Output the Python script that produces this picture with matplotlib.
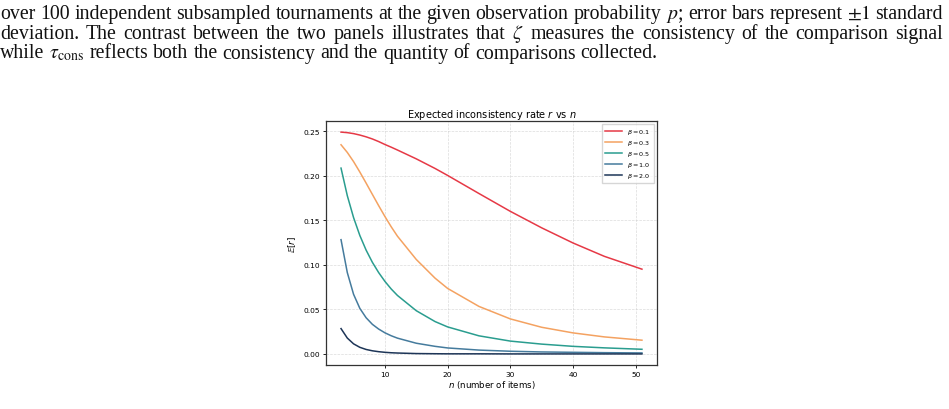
import matplotlib
matplotlib.use("Agg")
import matplotlib.pyplot as plt

# ─── data ─────────────────────────────────────────────────────────────────
n_items = [3, 4, 5, 6, 7, 8, 9, 10, 11, 12, 15, 18, 20, 25, 30, 35, 40, 45, 51]
betas = ["0.1", "0.3", "0.5", "1.0", "2.0"]
r_beta01 = [0.2489, 0.2483, 0.2472, 0.2456, 0.2436, 0.2412, 0.2383, 0.2350, 0.2320,
            0.2288, 0.2189, 0.2081, 0.2003, 0.1800, 0.1600, 0.1415, 0.1245, 0.1095, 0.0951]
r_beta03 = [0.2347, 0.2261, 0.2158, 0.2041, 0.1917, 0.1790, 0.1664, 0.1542, 0.1427,
            0.1321, 0.1060, 0.0850, 0.0735, 0.0533, 0.0393, 0.0299, 0.0236, 0.0191, 0.0154]
r_beta05 = [0.2085, 0.1776, 0.1530, 0.1329, 0.1165, 0.1028, 0.0913, 0.0814, 0.0729,
            0.0656, 0.0485, 0.0363, 0.0303, 0.0203, 0.0144, 0.0110, 0.0085, 0.0068, 0.0052]
r_beta10 = [0.1282, 0.0913, 0.0669, 0.0511, 0.0406, 0.0332, 0.0279, 0.0237, 0.0204,
            0.0177, 0.0120, 0.0085, 0.0067, 0.0043, 0.0030, 0.0022, 0.0018, 0.0014, 0.0011]
r_beta20 = [0.0284, 0.0178, 0.0113, 0.0074, 0.0050, 0.0035, 0.0025, 0.0018, 0.0013,
            0.0010, 0.0004, 0.0002, 0.0001, 0.0001, 0.0000, 0.0000, 0.0000, 0.0000, 0.0000]
series = [r_beta01, r_beta03, r_beta05, r_beta10, r_beta20]
colors = ["#e63946", "#f4a261", "#2a9d8f", "#457b9d", "#1d3557"]

caption_lines = [
    r"over 100 independent subsampled tournaments at the given observation probability $p$; error bars represent $\pm1$ standard",
    r"deviation. The contrast between the two panels illustrates that $\zeta$ measures the consistency of the comparison signal",
    r"while $\tau_{\mathrm{cons}}$ reflects both the consistency and the quantity of comparisons collected.",
]

fig = plt.figure(figsize=(9.49, 4.10), dpi=100)

# ─── caption text (lines 1-2 justified to the text width) ─────────────────
W, H = 949, 410
baselines = [19, 39, 58.5]
target_w = 943
fs = 14.3
renderer = fig.canvas.get_renderer()
for i, line in enumerate(caption_lines):
    words = line.split(" ")
    texts = [fig.text(0, 1 - baselines[i] / H, w, family="Liberation Serif", fontsize=fs,
                      math_fontfamily="stix", va="baseline", ha="left", color="#111111")
             for w in words]
    widths = [t.get_window_extent(renderer).width for t in texts]
    space = fs * 0.25 * 100 / 72
    gap = (target_w - sum(widths)) / (len(words) - 1) if i < 2 else space
    x = 0
    for t, w in zip(texts, widths):
        t.set_x(x / W)
        x += w + gap

# ─── chart ────────────────────────────────────────────────────────────────
ax = fig.add_axes([0.3435, 0.1073, 0.3488, 0.5951])
for b, vals, c in zip(betas, series, colors):
    ax.plot(n_items, vals, color=c, lw=1.1, label=rf"$\beta = {b}$")

ax.grid(True, ls="--", lw=0.5, color="#cccccc", alpha=0.7)
ax.set_title(r"Expected inconsistency rate $r$ vs $n$", fontsize=7, pad=3)
ax.set_xlabel(r"$n$ (number of items)", fontsize=6.2, labelpad=1)
ax.set_ylabel(r"$\mathbb{E}[r]$", fontsize=6.2, labelpad=4)
ax.tick_params(labelsize=5.4, length=2, width=0.6, pad=2)
for s in ax.spines.values():
    s.set_linewidth(0.9)
    s.set_color("#333333")
ax.legend(loc="upper right", fontsize=4.6, handlelength=2.6, frameon=True,
          borderpad=0.5, labelspacing=0.3, fancybox=False)

fig.savefig("out.png", dpi=100)
